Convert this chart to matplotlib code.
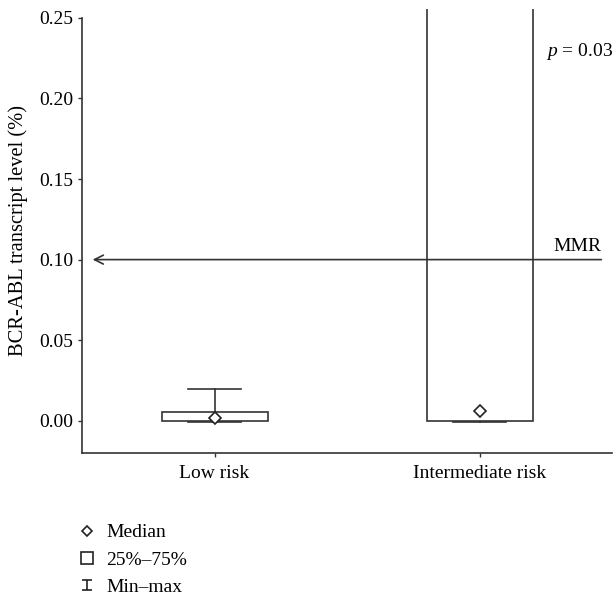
import numpy as np
import matplotlib.pyplot as plt
from matplotlib.lines import Line2D
from matplotlib.path import Path

plt.rcParams['font.family'] = ['Liberation Serif', 'DejaVu Serif']
plt.rcParams['mathtext.fontset'] = 'custom'
plt.rcParams['mathtext.it'] = 'Liberation Serif:italic'
plt.rcParams['mathtext.rm'] = 'Liberation Serif'

# data
groups = ['Low risk', 'Intermediate risk']
q1 = [0.0, 0.0]
q3 = [0.0055, 0.40]
medians = [0.002, 0.006]
mins = [-0.001, -0.001]
maxs = [0.02, 0.50]
mmr = 0.10
yticks = [0.00, 0.05, 0.10, 0.15, 0.20, 0.25]

ec = '#333333'
fs = 14
fig = plt.figure(figsize=(6.15, 5.99), dpi=100)
ax = fig.add_axes([82/615, 1 - 453/599, (612-82)/615, (453-9)/599])

x = np.arange(len(groups))
ax.bar(x, np.array(q3) - np.array(q1), bottom=q1, width=0.4,
       color='white', edgecolor=ec, linewidth=1.2, zorder=2)
for xi, lo, hi, a, b in zip(x, mins, maxs, q1, q3):
    ax.plot([xi, xi], [b, hi], color=ec, lw=1.2, zorder=1)
    ax.plot([xi, xi], [lo, a], color=ec, lw=1.2, zorder=1)
    ax.plot([xi - 0.1, xi + 0.1], [hi, hi], color=ec, lw=1.2, zorder=1)
    ax.plot([xi - 0.1, xi + 0.1], [lo, lo], color=ec, lw=1.2, zorder=3)
ax.plot(x, medians, ls='none', marker='D', ms=6, mfc='white', mec='#222222',
        mew=1.2, zorder=4)

# MMR line with open arrow head on the left
ax.annotate('', xy=(-0.46, mmr), xytext=(1.46, mmr),
            arrowprops=dict(arrowstyle='->', color=ec, lw=1.2,
                            mutation_scale=16, shrinkA=0, shrinkB=0))
ax.text(1.46, mmr + 0.003, 'MMR', ha='right', va='bottom', fontsize=fs)
ax.text(1.505, 0.229, '$p$ = 0.03', ha='right', va='center', fontsize=fs)

ax.set_xlim(-0.5, 1.5)
ax.set_ylim(-0.02, 0.2555)
ax.set_yticks(yticks)
ax.set_yticklabels([f'{v:.2f}' for v in yticks])
ax.set_xticks(x)
ax.set_xticklabels(groups)
ax.tick_params(labelsize=fs, length=3, width=1, color=ec)
ax.tick_params(axis='x', pad=6)
ax.spines['top'].set_visible(False)
ax.spines['right'].set_visible(False)
ax.spines['left'].set_bounds(-0.02, 0.25)
for s in ['left', 'bottom']:
    ax.spines[s].set_color(ec)
    ax.spines[s].set_linewidth(1.2)
ax.set_ylabel('BCR-ABL transcript level (%)', fontsize=14.8, labelpad=8)

ibeam = Path([(-1, -1), (1, -1), (0, -1), (0, 1), (-1, 1), (1, 1)],
             [Path.MOVETO, Path.LINETO, Path.MOVETO, Path.LINETO,
              Path.MOVETO, Path.LINETO])
handles = [
    Line2D([], [], ls='none', marker='D', ms=5, mfc='white', mec='#222222', mew=1.2),
    Line2D([], [], ls='none', marker='s', ms=8, mfc='white', mec='#222222', mew=1.2),
    Line2D([], [], ls='none', marker=ibeam, ms=7.5, mfc='none', mec='#222222', mew=1.2),
]
fig.legend(handles, ['Median', '25%–75%', 'Min–max'], loc='upper left',
           bbox_to_anchor=(69/615, 1 - 516/599), frameon=False, fontsize=fs,
           handlelength=1.0, handletextpad=0.5, labelspacing=0.5,
           borderaxespad=0)

fig.savefig('out.png', dpi=100)
